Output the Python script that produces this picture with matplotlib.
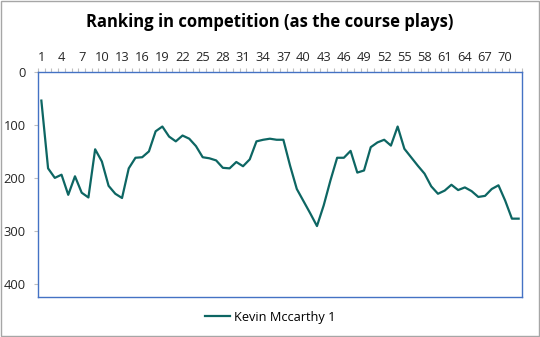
import matplotlib
matplotlib.use("Agg")
import matplotlib.pyplot as plt
from matplotlib.patches import Rectangle
import numpy as np

# Classement par trou
trous = list(range(1, 73))
classement = [54, 182, 200, 194, 232, 197, 228, 237, 146, 169,
              215, 230, 238, 182, 162, 161, 150, 112, 103, 122,
              131, 120, 126, 140, 161, 163, 167, 181, 182, 170,
              178, 165, 131, 128, 126, 128, 128, 177, 221, 244,
              267, 291, 252, 205, 162, 162, 149, 190, 186, 142,
              133, 128, 139, 103, 145, 161, 177, 192, 216, 230,
              224, 213, 223, 218, 225, 236, 234, 221, 214, 243,
              277, 277]
serie = "Kevin Mccarthy 1"
titre = "Ranking in competition (as the course plays)"
labels_x = list(range(1, 73, 3))
ticks_y = [0, 100, 200, 300, 400]

plt.rcParams['font.family'] = ['Open Sans', 'DejaVu Sans']

fig = plt.figure(figsize=(5.4, 3.37), dpi=100)
ax = fig.add_axes([38/540, 1-297/337, (522-38)/540, (297-72)/337])

ax.plot(trous, classement, color="#0d6663", lw=1.6, label=serie)

ax.set_xlim(0.5, 72.5)
ax.set_ylim(425, 0)

# Axe des trous en haut
ax.xaxis.tick_top()
ax.set_xticks(labels_x)
ax.set_xticklabels([str(v) for v in labels_x], fontsize=9.3, color="#262626")
ax.set_xticks(np.arange(0.5, 73, 1), minor=True)
ax.tick_params(axis="x", which="major", length=0, pad=6)
ax.tick_params(axis="x", which="minor", length=3, width=0.8, color="#bfbfbf", top=True, bottom=False)

ax.set_yticks(ticks_y)
ax.set_yticklabels([str(v) for v in ticks_y], fontsize=9.3, color="#262626")
ax.tick_params(axis="y", length=3, width=0.8, color="#bfbfbf", pad=6)

for s in ax.spines.values():
    s.set_color("#4472c4")
    s.set_linewidth(1.0)

fig.text(0.5, 1-22/337, titre, ha="center", va="center", fontsize=12, fontweight="bold", color="black")

fig.legend(loc="center", bbox_to_anchor=(0.5, 1-317/337), frameon=False, fontsize=9.2,
           handlelength=2.0, handletextpad=0.3)

# Cadre extérieur
fig.patches.append(Rectangle((0.001, 0.002), 0.997, 0.995, transform=fig.transFigure,
                             fill=False, edgecolor="#a6a6a6", lw=1.0))

fig.savefig("out.png", dpi=100)
